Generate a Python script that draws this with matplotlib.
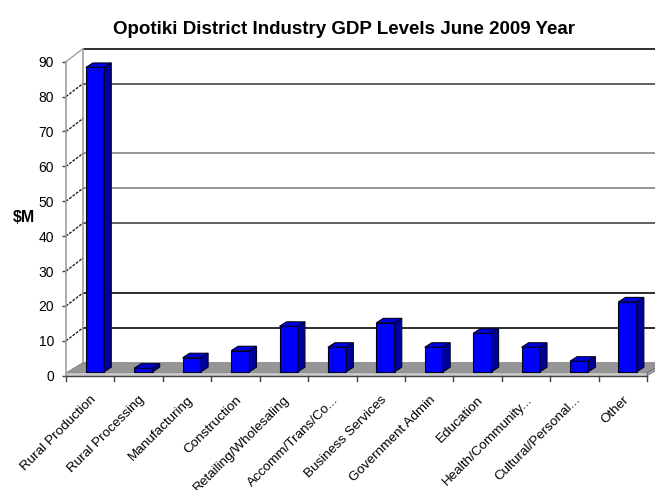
import matplotlib
matplotlib.use("Agg")
from matplotlib import pyplot as plt
from matplotlib.patches import Polygon

plt.rcParams['font.family'] = ['Liberation Sans', 'DejaVu Sans']

industries = [
    "Rural Production", "Rural Processing", "Manufacturing", "Construction",
    "Retailing/Wholesaling", "Accomm/Trans/Co...", "Business Services",
    "Government Admin", "Education", "Health/Community...",
    "Cultural/Personal...", "Other",
]
gdp_millions = [87.2, 1, 4, 6, 13, 7, 14, 7, 11, 7, 3, 20]

y_ticks = [0, 10, 20, 30, 40, 50, 60, 70, 80, 90]
# gridlines on the back wall (some levels drawn lighter, some not at all)
grid_levels = [90, 80, 60, 50, 40, 20, 10]
grid_colors = ['#000000', '#404040', '#808080', '#808080', '#404040', '#000000', '#000000']

# depth of the 3-D box in data units (x: categories, y: $M)
DX, DY = 0.351, 3.73
SLAB = 0.8             # front thickness of the floor
BASE = 1.15            # bars sit slightly behind the front edge
SHIFT, WIDTH = 0.1, 0.38
BDX, BDY = 0.145, 1.29  # depth of each bar

FRONT = '#0000ff'
TOP = '#0000dd'
SIDE = '#00009c'


def draw_bar(ax, i, value):
    x0 = i + 0.5 + SHIFT - WIDTH / 2
    x1 = x0 + WIDTH
    y0, y1 = BASE, BASE + value
    faces = [
        ([(x0, y0), (x1, y0), (x1, y1), (x0, y1)], FRONT),
        ([(x0, y1), (x1, y1), (x1 + BDX, y1 + BDY), (x0 + BDX, y1 + BDY)], TOP),
        ([(x1, y0), (x1 + BDX, y0 + BDY), (x1 + BDX, y1 + BDY), (x1, y1)], SIDE),
    ]
    for pts, col in faces:
        ax.add_patch(Polygon(pts, closed=True, facecolor=col, edgecolor='#000022',
                             linewidth=0.8, clip_on=False, zorder=5))


def main():
    fig = plt.figure(figsize=(6.55, 4.9), dpi=100)
    ax = fig.add_axes([66 / 655, (490 - 375.7) / 490, (647 - 66) / 655, 314 / 490])
    n = len(industries)
    ax.set_xlim(0, n)
    ax.set_ylim(0, 90)
    ax.patch.set_visible(False)
    for side in ['top', 'right', 'bottom']:
        ax.spines[side].set_visible(False)
    ax.spines['left'].set_color('#a0a0a0')
    ax.spines['left'].set_linewidth(1.2)

    # back wall gridlines and left wall
    for lvl, col in zip(grid_levels, grid_colors):
        ax.plot([DX, n + DX + 1], [lvl + DY, lvl + DY], color=col, lw=1.15,
                clip_on=False, zorder=1, solid_capstyle='butt')
    ax.plot([DX, DX], [DY, 90 + DY], color='#a0a0a0', lw=1.2, clip_on=False, zorder=1)
    ax.plot([0, DX], [90, 90 + DY], color='#a0a0a0', lw=1.0, clip_on=False, zorder=1)
    for v in y_ticks[1:-1]:
        ax.plot([0, DX], [v, v + DY], color='#202020', lw=1.0, ls=(0, (2, 1)),
                clip_on=False, zorder=1)

    # floor slab
    ax.add_patch(Polygon([(0, SLAB), (n, SLAB), (n + DX, DY), (DX, DY)], closed=True,
                         facecolor='#969696', edgecolor='#808080', lw=0.6,
                         clip_on=False, zorder=2))
    ax.add_patch(Polygon([(0, 0), (n, 0), (n, SLAB), (0, SLAB)], closed=True,
                         facecolor='#c8c8c8', edgecolor='none', clip_on=False, zorder=2))
    ax.add_patch(Polygon([(n, 0), (n + DX, DY - SLAB), (n + DX, DY), (n, SLAB)], closed=True,
                         facecolor='#b0b0b0', edgecolor='#606060', lw=0.6,
                         clip_on=False, zorder=2))
    ax.plot([0, n], [0, 0], color='#404040', lw=1.0, clip_on=False, zorder=3)

    for i, v in enumerate(gdp_millions):
        draw_bar(ax, i, v)

    # category boundary ticks below the floor
    for k in range(n + 1):
        ax.plot([k, k], [0, -1.5], color='#404040', lw=1.0, clip_on=False, zorder=3)

    ax.set_yticks(y_ticks)
    ax.set_yticklabels([str(t) for t in y_ticks], fontsize=10)
    ax.tick_params(axis='y', length=3, width=1.0, color='#404040', pad=5.5)

    ax.set_xticks([i + 0.5 for i in range(n)])
    ax.set_xticklabels(industries, fontsize=9.7, rotation=45, ha='right',
                       rotation_mode='anchor')
    ax.tick_params(axis='x', length=0, pad=13)

    fig.text(24 / 655, 1 - 218 / 490, "$M", fontsize=11.5, fontweight='bold',
             ha='center', va='center')
    fig.text(344 / 655, 1 - 30 / 490, "Opotiki District Industry GDP Levels June 2009 Year",
             fontsize=13.5, fontweight='bold', ha='center', va='center')

    fig.savefig('out.png', dpi=100)


if __name__ == "__main__":
    main()
